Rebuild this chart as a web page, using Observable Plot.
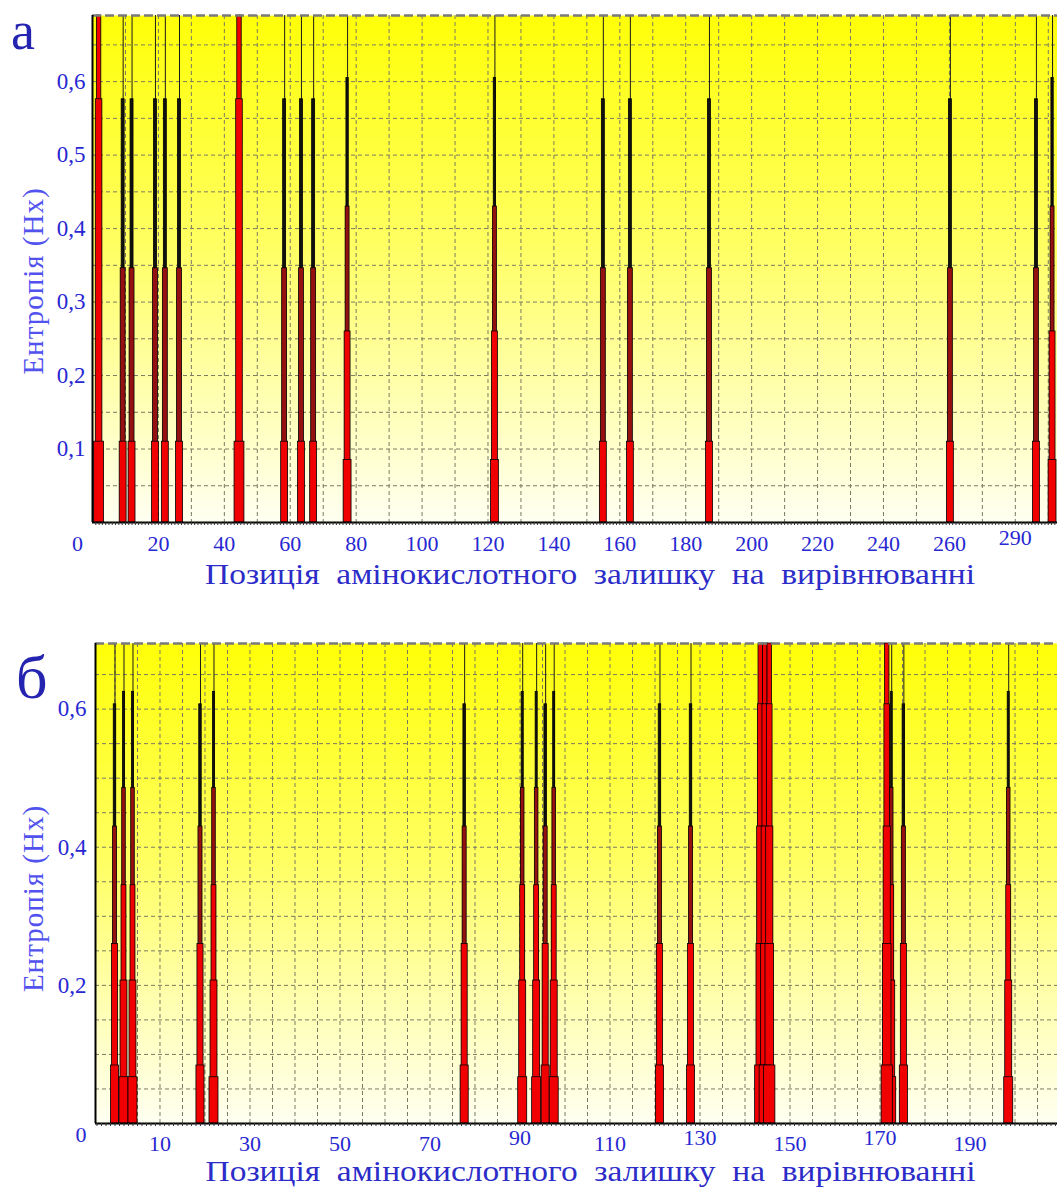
<!DOCTYPE html>
<html><head><meta charset="utf-8">
<script src="https://cdn.jsdelivr.net/npm/d3@7"></script>
<script src="https://cdn.jsdelivr.net/npm/@observablehq/plot@0.6"></script>
<style>
body{margin:0;background:#fff;}
#wrap{position:relative;width:1057px;height:1198px;overflow:hidden;background:#fff;}
.panel{position:absolute;left:0;}
.letter{position:absolute;font-family:'Liberation Serif','Times New Roman',serif;color:#2424b0;line-height:1;}
</style></head><body>
<div id="wrap">
<div id="pa" class="panel" style="top:0"></div>
<div id="pb" class="panel" style="top:600px"></div>
<div class="letter" style="left:11px;top:4px;font-size:54px">а</div>
<div class="letter" style="left:16px;top:646px;font-size:62px">б</div>
</div>
<script>
// ---------- texts ----------
const xTitle = "Позиція  амінокислотного  залишку  на  вирівнюванні";
const yTitle = "Ентропія (Нх)";

// ---------- panel а ----------
const aPositions = [2, 9.3, 12, 19.1, 22.1, 26.4, 44.6, 58.3, 63.4, 67.1, 77.4, 122.1, 155, 163.2, 187.2, 260.3, 286.4, 291.3];
const aTypes     = ["C","A","A","A","A","A","C","A","A","A","B","B","A","A","A","A","A","B"];
// entropy levels of each spike profile (last level = reaches the top of the axis)
const aLevelsA = [0.11, 0.346, 0.576, 0.69];
const aLevelsB = [0.085, 0.26, 0.43, 0.605, 0.69];
const aLevelsC = [0.11, 0.576, 0.69];
const aXTickValues = [0, 20, 40, 60, 80, 100, 120, 140, 160, 180, 200, 220, 240, 260, 280];
const aXTickLabels = ["0","20","40","60","80","100","120","140","160","180","200","220","240","260","290"];
const aYTickValues = [0.1, 0.2, 0.3, 0.4, 0.5, 0.6];
const aYTickLabels = ["0,1","0,2","0,3","0,4","0,5","0,6"];

// ---------- panel б ----------
const bPositions = [0, 2, 4, 19, 22, 77.7, 90.6, 93.7, 95.7, 97.6, 121.1, 128, 143.5, 144.5, 145.5, 171.6, 172.6, 175.3, 198.6];
const bTypes     = ["P1","P2","P2","P1","P2","P1","P2","P2","P1","P2","P1","P1","P3","P3","P3","P3","P2","P1","P2"];
const bLevelsP1 = [0.084, 0.26, 0.43, 0.607, 0.695];
const bLevelsP2 = [0.067, 0.207, 0.345, 0.486, 0.625, 0.695];
const bLevelsP3 = [0.084, 0.26, 0.43, 0.607, 0.695];
const bXTickValues = [0, 10, 30, 50, 70, 90, 110, 130, 150, 170, 190];
const bXTickLabels = ["0","10","30","50","70","90","110","130","150","170","190"];
const bYTickValues = [0.2, 0.4, 0.6];
const bYTickLabels = ["0,2","0,4","0,6"];

// ---------- styles ----------
const FONT = "'Liberation Serif','Times New Roman',serif";
const BLUE = "#2828d2";
const TITLE_BLUE = "#2c2cc8";
const YTITLE_BLUE = "#5252ee";
const GRID = "#7a7a62";
const R = "#f00000", D = "#951010", K = "#111111";

function drawPanel(cfg) {
  const bars = [], lines = [];
  cfg.positions.forEach((p, i) => {
    const t = cfg.types[i];
    const lv = cfg.levels[t], ws = cfg.widths[t], fs = cfg.fills[t];
    lv.forEach((v, j) => {
      const w = ws[j];
      if (w > 0) bars.push({x1: p - w / 2, x2: p + w / 2, y: v, w, f: fs[j]});
      else lines.push({x: p, y: v});
    });
  });
  bars.sort((a, b) => a.w - b.w); // narrow first, wider (shorter) drawn on top
  const lab = (vals, labs) => d => labs[vals.indexOf(d)];
  const fmtX = lab(cfg.xTickValues, cfg.xTickLabels);
  const normal = cfg.xTickValues.filter(v => v !== 0 && !cfg.raised.includes(v));
  const raised = cfg.xTickValues.filter(v => cfg.raised.includes(v));

  const svg = Plot.plot({
    width: 1057, height: cfg.height,
    marginLeft: cfg.ml, marginRight: 0, marginTop: cfg.mt, marginBottom: cfg.mb,
    x: {domain: cfg.xDomain, label: null},
    y: {domain: [0, cfg.yMax], label: null},
    style: {fontFamily: FONT, background: "transparent"},
    marks: [
      Plot.frame({fill: `url(#${cfg.id}-grad)`}),
      Plot.ruleX(cfg.xGrid, {stroke: GRID, strokeWidth: 1, strokeDasharray: "4,3"}),
      Plot.ruleY(cfg.yGrid, {stroke: GRID, strokeWidth: 1, strokeDasharray: "4,3"}),
      Plot.ruleX(lines, {x: "x", y1: 0, y2: "y", stroke: "#1a1a1a", strokeWidth: 1}),
      Plot.rect(bars, {x1: "x1", x2: "x2", y1: 0, y2: "y", fill: d => d.f, stroke: "#000", strokeWidth: 0.8}),
      Plot.ruleY([cfg.yMax], {stroke: "#7a7a7a", strokeWidth: 2.5, strokeDasharray: "9,4"}),
      Plot.ruleX([cfg.xDomain[0]], {stroke: "#000", strokeWidth: 2}),
      Plot.ruleY([0], {stroke: "#000", strokeWidth: 2}),
      Plot.axisX(cfg.minor, {tickSize: 3, tickFormat: () => "", stroke: "#333"}),
      Plot.axisX([0], {tickSize: 0, tickPadding: cfg.xtp, tickFormat: fmtX, fontSize: 22, color: BLUE, dx: cfg.zeroDx, dy: cfg.zeroDy}),
      Plot.axisX(normal, {tickSize: 0, tickPadding: cfg.xtp, tickFormat: fmtX, fontSize: 22, color: BLUE}),
      Plot.axisX(raised, {tickSize: 0, tickPadding: cfg.xtp, tickFormat: fmtX, fontSize: 22, color: BLUE, dy: -6}),
      Plot.axisY(cfg.yTickValues, {tickSize: 0, tickPadding: cfg.ytp, tickFormat: lab(cfg.yTickValues, cfg.yTickLabels), fontSize: 23, color: BLUE}),
      Plot.text([xTitle], {text: d => d, frameAnchor: "bottom", textAnchor: "middle", dx: cfg.xtDx, dy: cfg.xtDy, fontSize: 29, fill: TITLE_BLUE, className: "xtitle"}),
      Plot.text([yTitle], {text: d => d, frameAnchor: "left", textAnchor: "middle", rotate: -90, dx: cfg.ytDx, dy: cfg.ytDy, fontSize: 29, fill: YTITLE_BLUE, className: "ytitle"})
    ]
  });
  const s = d3.select(svg);
  s.insert("defs", ":first-child").html(
    `<linearGradient id="${cfg.id}-grad" x1="0" y1="0" x2="0" y2="1">
       <stop offset="0" stop-color="#ffff08"/>
       <stop offset="0.45" stop-color="#ffff62"/>
       <stop offset="0.8" stop-color="#ffffbe"/>
       <stop offset="1" stop-color="#fffff2"/>
     </linearGradient>`);
  s.selectAll(".xtitle text").attr("textLength", 770).attr("lengthAdjust", "spacingAndGlyphs");
  s.selectAll(".ytitle text").style("letter-spacing", "1px");
  document.getElementById(cfg.id).appendChild(svg);
}

drawPanel({
  id: "pa", height: 600, ml: 92, mt: 15, mb: 78,
  xDomain: [0, 292.8], yMax: 0.69,
  positions: aPositions, types: aTypes,
  levels: {A: aLevelsA, B: aLevelsB, C: aLevelsC},
  widths: {A: [2.1, 1.5, 0.9, 0], B: [2.4, 1.8, 1.2, 0.7, 0], C: [3.0, 2.0, 1.35]},
  fills: {A: [R, D, K], B: [R, R, D, K], C: [R, R, R]},
  xGrid: d3.range(10, 292, 10), yGrid: d3.range(1, 14).map(k => k * 0.05),
  minor: d3.range(1, 293, 1),
  xTickValues: aXTickValues, xTickLabels: aXTickLabels, raised: [280],
  yTickValues: aYTickValues, yTickLabels: aYTickLabels,
  xtp: 13, ytp: 7, zeroDx: -15, zeroDy: 0,
  xtDx: 15, xtDy: 61, ytDx: -59, ytDy: 12
});

drawPanel({
  id: "pb", height: 598, ml: 95, mt: 43, mb: 75,
  xDomain: [-4.33, 209.44], yMax: 0.695,
  positions: bPositions, types: bTypes,
  levels: {P1: bLevelsP1, P2: bLevelsP2, P3: bLevelsP3},
  widths: {P1: [1.8, 1.35, 0.9, 0.55, 0], P2: [2.0, 1.55, 1.1, 0.8, 0.45, 0], P3: [2.5, 1.9, 1.6, 1.25, 1.0]},
  fills: {P1: [R, R, D, K], P2: [R, R, R, D, K], P3: [R, R, R, R, R]},
  xGrid: d3.range(0, 209, 5), yGrid: d3.range(1, 14).map(k => k * 0.05),
  minor: d3.range(-4, 209.4, 1),
  xTickValues: bXTickValues, xTickLabels: bXTickLabels, raised: [90, 130, 170],
  yTickValues: bYTickValues, yTickLabels: bYTickLabels,
  xtp: 12, ytp: 9, zeroDx: -34, zeroDy: -9,
  xtDx: 14, xtDy: 57, ytDx: -62, ytDy: 15
});
</script>
</body></html>
